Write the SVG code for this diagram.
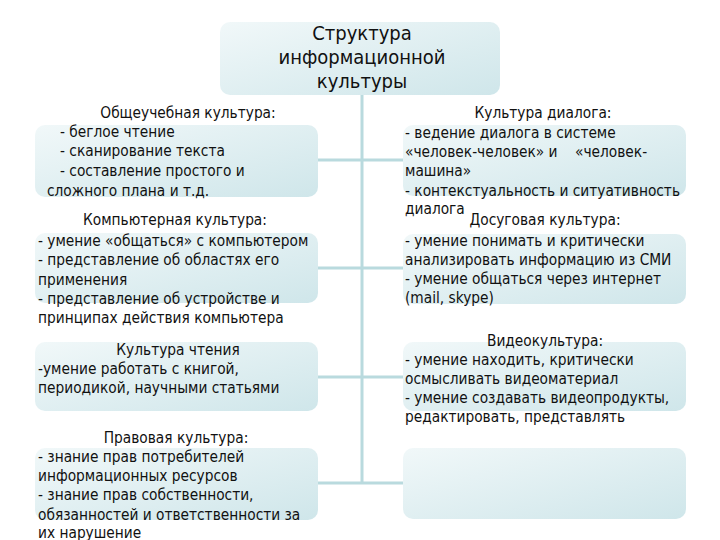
<svg xmlns="http://www.w3.org/2000/svg" width="720" height="540" viewBox="0 0 720 540">
<style>
.b{fill:url(#g);stroke:none}
.t{font-family:"DejaVu Sans Condensed","Liberation Sans Narrow","Liberation Sans",sans-serif;font-size:15.3px;fill:#111;white-space:pre}
.c{text-anchor:middle}
.h{font-family:"DejaVu Sans Condensed","Liberation Sans",sans-serif;font-size:20px;fill:#111;text-anchor:middle}
.l{stroke:#b9dade;stroke-width:3;fill:none}
</style>
<defs>
<linearGradient id="g" x1="0" y1="0" x2="1" y2="1">
<stop offset="0" stop-color="#f1f8f9"/>
<stop offset="1" stop-color="#cfe6ea"/>
</linearGradient>
</defs>
<rect width="720" height="540" fill="#fff"/>
<g id="connectors">
<path class="l" d="M362 95V483M318 160H403M318 268H403M318 377H403M318 483H403"/>
</g>
<g id="root"><rect class="b" x="220" y="22" width="280" height="73" rx="10"/>
<text class="h" x="362" y="40">Структура</text><text class="h" x="362" y="64">информационной</text><text class="h" x="362" y="88">культуры</text></g>
<g id="n1"><rect class="b" x="35" y="125" width="283" height="72" rx="10"/>
<text class="t c" x="188" y="118">Общеучебная культура:</text>
<text class="t" x="60" y="137">- беглое чтение</text><text class="t" x="60" y="156">- сканирование текста</text><text class="t" x="60" y="176">- составление простого и</text><text class="t" x="47" y="196">сложного плана и т.д.</text></g>
<g id="n2"><rect class="b" x="35" y="233" width="283" height="70" rx="10"/>
<text class="t c" x="175" y="225">Компьютерная культура:</text>
<text class="t" x="38" y="246">- умение «общаться» с компьютером</text><text class="t" x="38" y="265">- представление об областях его</text><text class="t" x="38" y="285">применения</text><text class="t" x="38" y="304">- представление об устройстве и</text><text class="t" x="38" y="323">принципах действия компьютера</text></g>
<g id="n3"><rect class="b" x="35" y="342" width="283" height="69" rx="10"/>
<text class="t c" x="178" y="355">Культура чтения</text>
<text class="t" x="38" y="374">-умение работать с книгой,</text><text class="t" x="38" y="393">периодикой, научными статьями</text></g>
<g id="n4"><rect class="b" x="35" y="448" width="283" height="72" rx="10"/>
<text class="t c" x="176" y="443">Правовая культура:</text>
<text class="t" x="38" y="462">- знание прав потребителей</text><text class="t" x="38" y="481">информационных ресурсов</text><text class="t" x="38" y="500">- знание прав собственности,</text><text class="t" x="38" y="520">обязанностей и ответственности за</text><text class="t" x="38" y="538">их нарушение</text></g>
<g id="n5"><rect class="b" x="403" y="125" width="283" height="71" rx="10"/>
<text class="t c" x="543" y="118">Культура диалога:</text>
<text class="t" x="405" y="138">- ведение диалога в системе</text><text class="t" x="405" y="157">«человек-человек» и    «человек-</text><text class="t" x="405" y="176">машина»</text><text class="t" x="405" y="196">- контекстуальность и ситуативность</text><text class="t" x="405" y="214">диалога</text></g>
<g id="n6"><rect class="b" x="403" y="234" width="283" height="70" rx="10"/>
<text class="t c" x="545" y="225">Досуговая культура:</text>
<text class="t" x="405" y="246">- умение понимать и критически</text><text class="t" x="405" y="265">анализировать информацию из СМИ</text><text class="t" x="405" y="284">- умение общаться через интернет</text><text class="t" x="405" y="303">(mail, skype)</text></g>
<g id="n7"><rect class="b" x="403" y="342" width="283" height="69" rx="10"/>
<text class="t c" x="545" y="346">Видеокультура:</text>
<text class="t" x="405" y="365">- умение находить, критически</text><text class="t" x="405" y="384">осмысливать видеоматериал</text><text class="t" x="405" y="403">- умение создавать видеопродукты,</text><text class="t" x="405" y="422">редактировать, представлять</text></g>
<g id="n8"><rect class="b" x="403" y="448" width="283" height="71" rx="10"/></g>
</svg>
